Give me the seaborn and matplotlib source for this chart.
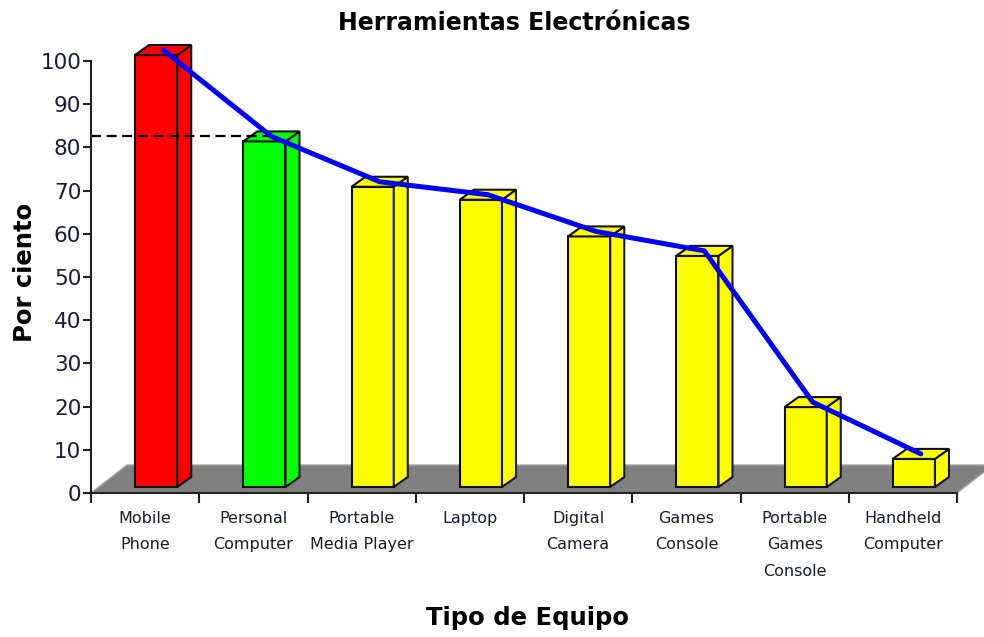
import numpy as np
import matplotlib
matplotlib.use("Agg")
import matplotlib.pyplot as plt
from matplotlib.patches import Polygon
import seaborn as sns

# chart data
categories = ["Mobile\nPhone", "Personal\nComputer", "Portable\nMedia Player", "Laptop",
              "Digital\nCamera", "Games\nConsole", "Portable\nGames\nConsole", "Handheld\nComputer"]
values = [100, 80, 69.5, 66.5, 58, 53.5, 18.5, 6.5]
bar_colors = ["#FF0000", "#00FF00", "#FFFF00", "#FFFF00",
              "#FFFF00", "#FFFF00", "#FFFF00", "#FFFF00"]
y_ticks = list(range(0, 101, 10))
title = "Herramientas Electrónicas"
x_label = "Tipo de Equipo"
y_label = "Por ciento"

sns.set_style("white")
plt.rcParams["font.family"] = ["DejaVu Sans"]

fig = plt.figure(figsize=(9.84, 6.37), dpi=100)
ax = fig.add_axes([91 / 984, 144 / 637, 866 / 984, 432 / 637])

n = len(categories)
ax.set_xlim(-0.5, n - 0.5)
ax.set_ylim(0, 100)

# pixel -> data unit helpers (axes size is fixed)
p0 = ax.transData.transform((0, 0))
p1 = ax.transData.transform((1, 1))
ux = 1.0 / (p1[0] - p0[0])
uy = 1.0 / (p1[1] - p0[1])

# 3d look offsets, in pixels
shift_x, shift_y = 11 * ux, 6 * uy
depth_x, depth_y = 14 * ux, 10 * uy
floor_x, floor_y = 36 * ux, 28 * uy

# floor
floor = Polygon([(-0.5, 0), (n - 0.5, 0), (n - 0.5 + floor_x, floor_y), (-0.5 + floor_x, floor_y)],
                closed=True, facecolor="#808080", edgecolor="#a6a6a6", lw=1, zorder=1, clip_on=False)
ax.add_patch(floor)

sns.barplot(x=categories, y=values, hue=categories, palette=bar_colors, legend=False,
            width=0.39, saturation=1, edgecolor="#111111", linewidth=1.5, ax=ax, zorder=3)

vx, vy = [], []
for patch, col in zip(ax.patches[1:], bar_colors):
    patch.set_x(patch.get_x() + shift_x)
    patch.set_y(shift_y)
    patch.set_clip_on(False)
    x0 = patch.get_x()
    x1 = x0 + patch.get_width()
    y0 = patch.get_y()
    y1 = y0 + patch.get_height()
    side = Polygon([(x1, y0), (x1 + depth_x, y0 + depth_y), (x1 + depth_x, y1 + depth_y), (x1, y1)],
                   closed=True, facecolor=col, edgecolor="#111111", lw=1.5, zorder=3, clip_on=False)
    top = Polygon([(x0, y1), (x1, y1), (x1 + depth_x, y1 + depth_y), (x0 + depth_x, y1 + depth_y)],
                  closed=True, facecolor=col, edgecolor="#111111", lw=1.5, zorder=3, clip_on=False)
    ax.add_patch(side)
    ax.add_patch(top)
    vx.append((x0 + x1) / 2 + depth_x / 2)
    vy.append(y1 + depth_y / 2)

# dashed reference from axis to second bar
ax.plot([-0.5, vx[1]], [vy[1], vy[1]], color="black", lw=1.6, dashes=(4.5, 2.5), zorder=4, clip_on=False)
ax.plot(vx, vy, color="#0000FF", lw=3.6, zorder=5, clip_on=False, solid_joinstyle="round")

for s in ["top", "right"]:
    ax.spines[s].set_visible(False)
for s in ["left", "bottom"]:
    ax.spines[s].set_linewidth(1.5)
    ax.spines[s].set_color("#222222")
    ax.spines[s].set_zorder(6)

ax.set_yticks(y_ticks)
ax.set_yticklabels([str(t) for t in y_ticks], fontsize=15.5, color="#1a1a3a")
ax.tick_params(axis="y", left=True, direction="out", length=6, width=1.5, pad=1, color="#222222")

ax.set_xticks(np.arange(-0.5, n, 1))
ax.set_xticklabels([])
ax.set_xticks(np.arange(n), minor=True)
ax.set_xticklabels(categories, minor=True, fontsize=11.5, linespacing=1.95, color="#1a1a2a")
ax.tick_params(axis="x", which="major", bottom=True, direction="out", length=7, width=1.5, color="#222222")
ax.tick_params(axis="x", which="minor", bottom=True, length=0, pad=13)
ax.set_xlabel("")
ax.set_ylabel("")

fig.text(514 / 984, 1 - 23 / 637, title, ha="center", va="center", fontsize=17,
         fontweight="bold", color="black")
fig.text(528 / 984, 1 - 618 / 637, x_label, ha="center", va="center", fontsize=17.5,
         fontweight="bold", color="black")
fig.text(25 / 984, 1 - 272 / 637, y_label, ha="center", va="center", rotation=90,
         fontsize=17.5, fontweight="bold", color="black")

fig.savefig("out.png", dpi=100, facecolor="white")
